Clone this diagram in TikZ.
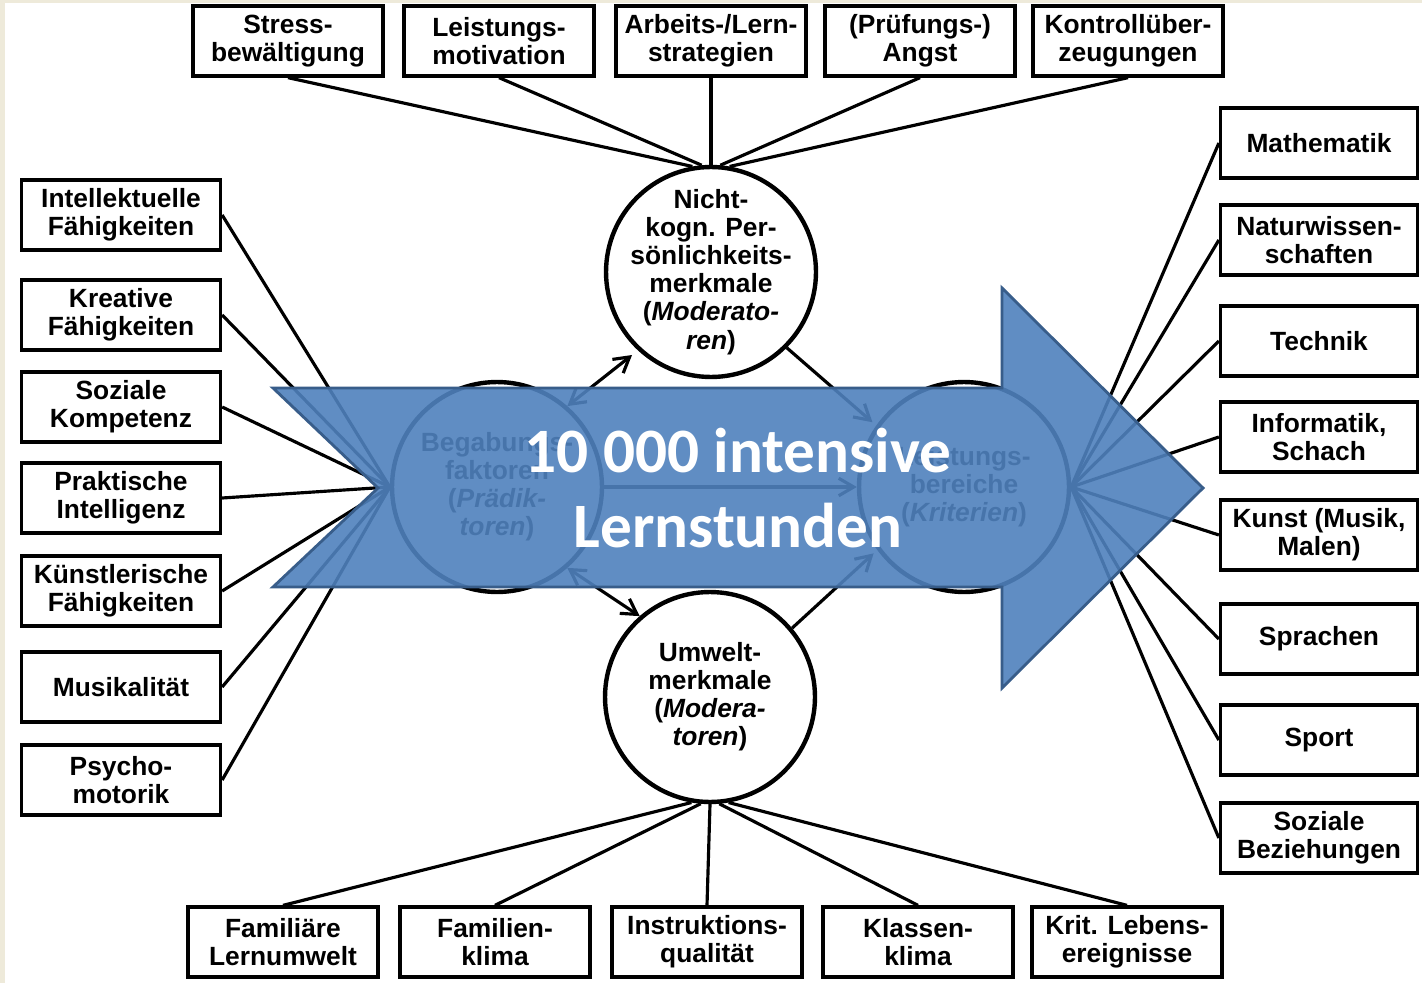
\documentclass[tikz,border=0pt]{standalone}
\usepackage{fontspec}
\setmainfont{Liberation Sans}
\newfontfamily\calibri{Carlito}
\usetikzlibrary{positioning}
\usetikzlibrary{arrows.meta}
\definecolor{custom-blue}{RGB}{79, 129, 189}
\definecolor{custom-darkblue}{RGB}{56, 93, 138}
\definecolor{custom-beige}{RGB}{238, 234, 218}
\tikzset{
  feld/.style={draw, line width=1.9pt, minimum width=3.8cm, minimum height=1.4cm, inner sep=0pt, align=center, font=\bfseries\fontsize{15}{16}\selectfont},
  kreis/.style={circle, draw, line width=2.5pt, minimum size=4.2cm, inner sep=0pt},
  kreistext/.style={align=center, inner sep=0pt, font=\bfseries\fontsize{15}{16}\selectfont},
  linie/.style={line width=1.8pt},
  pfeil/.style={line width=1.8pt, >={Straight Barb[length=3mm,width=3.5mm]}}
}

\begin{document}
\begin{tikzpicture}[x=0.02cm, y=-0.02cm]
\useasboundingbox (0,0) rectangle (1422,983);
\fill[custom-beige] (0,0) rectangle (1422,983);
\fill[white] (5,3) rectangle (1422,983);

% Kreise
\node[kreis] (nk) at (711,272) {};
\node[kreistext] (nktext) at (nk) {Nicht-\\kogn. Per-\\sönlichkeits-\\merkmale\\(\textit{Moderato-}\\\textit{ren})};
\node[kreis] (um) at (710,697) {};
\node[kreistext] (umtext) at (um) {Umwelt-\\merkmale\\(\textit{Modera-}\\\textit{toren})};
\node[kreis] (bg) at (497,487) {};
\node[kreistext] (bgtext) at (bg) {Begabungs-\\faktoren\\(\textit{Prädik-}\\\textit{toren})};
\node[kreis] (lb) at (964,487) {};
\node[kreistext] (lbtext) at (lb) {Leistungs-\\bereiche\\(\textit{Kriterien})};

% oben
\node[feld] (stress) at (288,41) {Stress-\\bewältigung};
\node[feld] (leistung) at (499,41) {Leistungs-\\motivation};
\node[feld] (arbeit) at (711,41) {Arbeits-/Lern-\\strategien};
\node[feld] (pruefung) at (920,41) {(Prüfungs-)\\Angst};
\node[feld] (kontrolle) at (1128,41) {Kontrollüber-\\zeugungen};

% unten
\node[feld] (famumwelt) at (283,942) {Familiäre\\Lernumwelt};
\node[feld] (famklima) at (495,942) {Familien-\\klima};
\node[feld] (instruktion) at (707,942) {Instruktions-\\qualität};
\node[feld] (klassklima) at (918,942) {Klassen-\\klima};
\node[feld] (lebensereig) at (1127,942) {Krit. Lebens-\\ereignisse};

% links
\node[feld, minimum width=3.98cm] (intell) at (121,215) {Intellektuelle\\Fähigkeiten};
\node[feld, minimum width=3.98cm] (kreativ) at (121,315) {Kreative\\Fähigkeiten};
\node[feld, minimum width=3.98cm] (sozial) at (121,407) {Soziale\\Kompetenz};
\node[feld, minimum width=3.98cm] (praktisch) at (121,498) {Praktische\\Intelligenz};
\node[feld, minimum width=3.98cm] (kuenstl) at (121,591) {Künstlerische\\Fähigkeiten};
\node[feld, minimum width=3.98cm] (musik) at (121,687) {Musikalität};
\node[feld, minimum width=3.98cm] (psycho) at (121,780) {Psycho-\\motorik};

% rechts
\node[feld, minimum width=3.94cm] (mathe) at (1319,143) {Mathematik};
\node[feld, minimum width=3.94cm] (natur) at (1319,240) {Naturwissen-\\schaften};
\node[feld, minimum width=3.94cm] (technik) at (1319,341) {Technik};
\node[feld, minimum width=3.94cm] (info) at (1319,437) {Informatik,\\Schach};
\node[feld, minimum width=3.94cm] (kunst) at (1319,535) {Kunst (Musik,\\Malen)};
\node[feld, minimum width=3.94cm] (sprachen) at (1319,639) {Sprachen};
\node[feld, minimum width=3.94cm] (sport) at (1319,740) {Sport};
\node[feld, minimum width=3.94cm] (bezieh) at (1319,838) {Soziale\\Beziehungen};

\draw[linie] (stress.south) -- (nk.100);
\draw[linie] (leistung.south) -- (nk.95);
\draw[linie] (arbeit.south) -- (nk.90);
\draw[linie] (pruefung.south) -- (nk.85);
\draw[linie] (kontrolle.south) -- (nk.80);

\draw[linie] (famumwelt.north) -- (um.-100);
\draw[linie] (famklima.north) -- (um.-95);
\draw[linie] (instruktion.north) -- (um.-90);
\draw[linie] (klassklima.north) -- (um.-85);
\draw[linie] (lebensereig.north) -- (um.-80);

\draw[linie] (intell.east) -- (bg.west);
\draw[linie] (kreativ.east) -- (bg.west);
\draw[linie] (sozial.east) -- (bg.west);
\draw[linie] (praktisch.east) -- (bg.west);
\draw[linie] (kuenstl.east) -- (bg.west);
\draw[linie] (musik.east) -- (bg.west);
\draw[linie] (psycho.east) -- (bg.west);

\draw[linie] (lb.east) -- (mathe.west);
\draw[linie] (lb.east) -- (natur.west);
\draw[linie] (lb.east) -- (technik.west);
\draw[linie] (lb.east) -- (info.west);
\draw[linie] (lb.east) -- (kunst.west);
\draw[linie] (lb.east) -- (sprachen.west);
\draw[linie] (lb.east) -- (sport.west);
\draw[linie] (lb.east) -- (bezieh.west);

\draw[pfeil, <->, shorten >=0.15cm] (bg.49) -- (nk.227);
\draw[pfeil, <->] (bg.-49) -- (um.131);
\draw[pfeil, ->] (bg.east) -- (lb.west);
\draw[pfeil, ->, shorten >=0.1cm] (nk.-45) -- (lb.145);
\draw[pfeil, ->, shorten >=0.1cm] (um.40) -- (lb.-144);

% Pfeil
\filldraw[fill=custom-blue, fill opacity=0.9, draw=custom-darkblue, line width=1.6pt] (273,388) -- (1002,388) -- (1002,288) -- (1203,488) -- (1002,688) -- (1002,587) -- (273,587) -- (378,488) -- cycle;
\node[text=white, align=center, font=\calibri\bfseries\fontsize{36}{43}\selectfont] (lern) at (738,488) {10 000 intensive\\Lernstunden};
\end{tikzpicture}
\end{document}
